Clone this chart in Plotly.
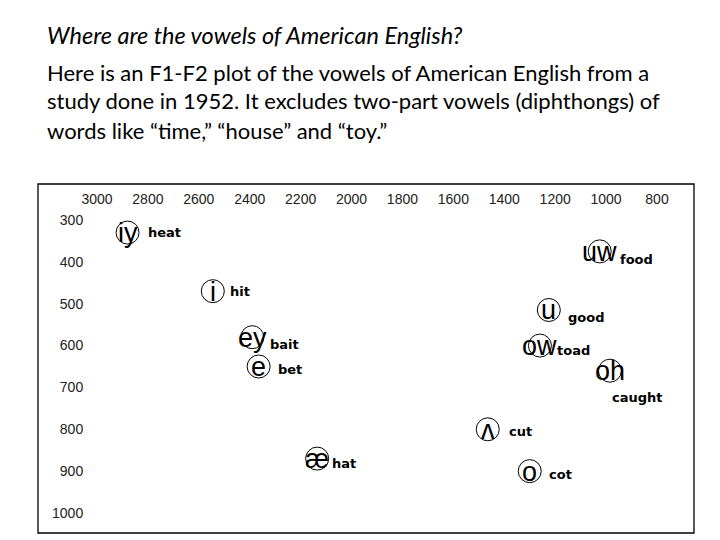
import plotly.graph_objects as go

# ---- data ----
symbols = ["iy", "i", "ey", "e", "æ", "uw", "u", "ow", "oh", "ʌ", "o"]
words = ["heat", "hit", "bait", "bet", "hat", "food", "good", "toad", "caught", "cut", "cot"]
f2 = [2880, 2545, 2390, 2365, 2135, 1025, 1225, 1260, 985, 1465, 1300]
f1 = [330, 470, 580, 650, 870, 375, 515, 600, 660, 800, 900]
x_ticks = [3000, 2800, 2600, 2400, 2200, 2000, 1800, 1600, 1400, 1200, 1000, 800]
y_ticks = [300, 400, 500, 600, 700, 800, 900, 1000]

title_line = "Where are the vowels of American English?"
body_lines = [
    "Here is an F1-F2 plot of the vowels of American English from a",
    "study done in 1952. It excludes two-part vowels (diphthongs) of",
    "words like \u201ctime,\u201d \u201chouse\u201d and \u201ctoy.\u201d",
]

# ---- styling (label offsets in px) ----
label_dx = [18, 15, 16, 17, 13, 18, 17, 15, 0, 19, 17]
label_dy = [0, 0, 7, 3, 5, 8, 8, 5, 27, 2, 3]

OFF = 8  # page body margin
W, H = 720 - OFF, 540 - OFF
L, R, T, B = 97 - OFF, 657 - OFF, 220 - OFF, 513 - OFF

fig = go.Figure()
fig.add_trace(go.Scatter(
    x=f2, y=f1, mode="markers",
    marker=dict(symbol="circle-open", size=23, color="black", line=dict(width=1, color="black")),
    cliponaxis=False, hoverinfo="skip", showlegend=False,
))

for xv, yv, s in zip(f2, f1, symbols):
    fig.add_annotation(
        x=xv, y=yv, text=s, showarrow=False, xanchor="center", yanchor="middle",
        yshift=-0.5,
        font=dict(family="Liberation Sans Narrow, Liberation Sans, Arial", size=27, color="black"),
    )

for xv, yv, w, dx, dy in zip(f2, f1, words, label_dx, label_dy):
    fig.add_annotation(
        x=xv, y=yv, text=w, showarrow=False, xanchor="left", yanchor="middle",
        xshift=dx, yshift=-dy,
        font=dict(family="DejaVu Sans", size=13, color="black", weight="bold"),
    )

def px_x(p):
    return (p - OFF - L) / (R - L)

def px_y(p):
    return (B - (p - OFF)) / (B - T)

# outer box
fig.add_shape(type="rect", xref="paper", yref="paper",
              x0=px_x(38), x1=px_x(694), y0=px_y(533), y1=px_y(184),
              line=dict(color="black", width=1.3))

fig.add_annotation(xref="paper", yref="paper", x=px_x(45), y=px_y(35),
                   text="<i>" + title_line + "</i>", showarrow=False,
                   xanchor="left", yanchor="middle",
                   font=dict(family="Lato, Open Sans", size=23.5, color="black"))
for i, line in enumerate(body_lines):
    fig.add_annotation(xref="paper", yref="paper", x=px_x(45), y=px_y(72 + 29 * i),
                       text=line, showarrow=False, xanchor="left", yanchor="middle",
                       font=dict(family="Lato, Open Sans", size=22, color="black"))

fig.update_layout(
    width=W, height=H,
    margin=dict(l=L, r=W - R, t=T, b=H - B, pad=0),
    paper_bgcolor="white", plot_bgcolor="white",
    xaxis=dict(range=[3000, 800], side="top", tickvals=x_ticks,
               ticktext=[str(v) for v in x_ticks], showgrid=False, zeroline=False,
               showline=False, ticks="outside", ticklen=9, tickcolor="rgba(0,0,0,0)",
               tickfont=dict(family="Liberation Sans, Arial", size=14, color="#222")),
    yaxis=dict(range=[1000, 300], tickvals=y_ticks,
               ticktext=[str(v) for v in y_ticks], showgrid=False, zeroline=False,
               showline=False, ticks="outside", ticklen=10, tickcolor="rgba(0,0,0,0)",
               tickfont=dict(family="Liberation Sans, Arial", size=14, color="#222")),
)

fig.write_html("out.html")
